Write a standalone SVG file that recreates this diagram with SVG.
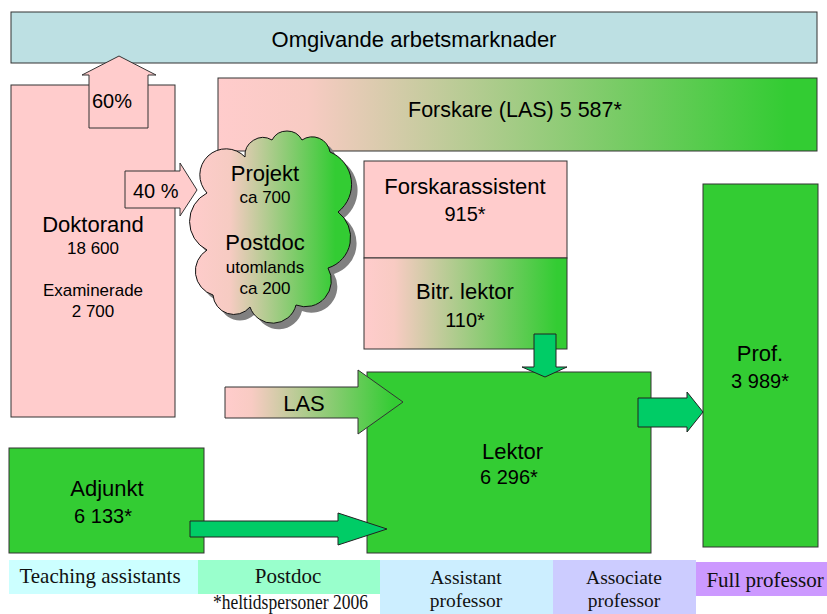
<svg xmlns="http://www.w3.org/2000/svg" width="827" height="614" viewBox="0 0 827 614">
<defs>
<linearGradient id="gPG" x1="0" y1="0" x2="1" y2="0">
<stop offset="0" stop-color="#ffcccc"/>
<stop offset="0.15" stop-color="#f8cbc3"/>
<stop offset="0.95" stop-color="#33cc33"/>
<stop offset="1" stop-color="#33cc33"/>
</linearGradient>
<linearGradient id="gCloud" x1="0" y1="0" x2="1" y2="0">
<stop offset="0" stop-color="#ffcccc"/>
<stop offset="0.25" stop-color="#f6cbc2"/>
<stop offset="0.9" stop-color="#33cc33"/>
<stop offset="1" stop-color="#33cc33"/>
</linearGradient>
<style>
.box{stroke:#333;stroke-width:1}
.pink{fill:#ffcccc}
.green{fill:#33cc33}
.arr{fill:#00cc66;stroke:#222;stroke-width:1}
.s{font-family:"Liberation Sans",Arial,sans-serif;fill:#000}
.big{font-size:22px}
.med{font-size:20px}
.sm{font-size:17px}
.ser{font-family:"Liberation Serif","Times New Roman",serif;font-size:21px;fill:#111}
.ser2{font-family:"Liberation Serif","Times New Roman",serif;font-size:19.5px;fill:#111}
.c{text-anchor:middle}
</style>
</defs>

<g id="arbetsmarknad">
<rect x="11" y="12" width="806" height="51" fill="#bde0e3" class="box"/>
<text x="414" y="47" class="s big c">Omgivande arbetsmarknader</text>
</g>

<g id="forskare">
<rect x="218" y="78" width="599" height="73" fill="url(#gPG)" class="box"/>
<text x="408" y="117" class="s" font-size="21.5">Forskare (LAS) 5 587*</text>
</g>

<g id="doktorand">
<rect x="11" y="85" width="164" height="332" class="box pink"/>
<text x="93" y="232" class="s big c">Doktorand</text>
<text x="93" y="254" class="s sm c">18 600</text>
<text x="93" y="296" class="s sm c">Examinerade</text>
<text x="93" y="317" class="s sm c">2 700</text>
</g>

<g id="cloud">
<path transform="translate(6,6)" fill="#808080" d="M 207 193 A 25 25 0 0 1 245 157 A 18 18 0 0 1 272 140 A 17 17 0 0 1 302 140 A 18 18 0 0 1 330 152 A 35 35 0 0 1 338 212 A 32 32 0 0 1 328 268 A 26 26 0 0 1 296 305 A 24 24 0 0 1 250 307 A 21 21 0 0 1 213 295 A 25 25 0 0 1 207 250 A 32 32 0 0 1 207 193 Z"/>
<path fill="url(#gCloud)" stroke="#111" stroke-width="1" d="M 207 193 A 25 25 0 0 1 245 157 A 18 18 0 0 1 272 140 A 17 17 0 0 1 302 140 A 18 18 0 0 1 330 152 A 35 35 0 0 1 338 212 A 32 32 0 0 1 328 268 A 26 26 0 0 1 296 305 A 24 24 0 0 1 250 307 A 21 21 0 0 1 213 295 A 25 25 0 0 1 207 250 A 32 32 0 0 1 207 193 Z"/>
<text x="265" y="181" class="s big c">Projekt</text>
<text x="265" y="203" class="s sm c">ca 700</text>
<text x="265" y="250" class="s big c">Postdoc</text>
<text x="265" y="273" class="s sm c">utomlands</text>
<text x="265" y="294" class="s sm c">ca 200</text>
</g>

<g id="forskarassistent">
<rect x="364" y="161" width="203" height="97" class="box pink"/>
<text x="465" y="194" class="s big c">Forskarassistent</text>
<text x="465" y="221" class="s med c">915*</text>
</g>

<g id="bitrlektor">
<rect x="364" y="258" width="203" height="91" fill="url(#gPG)" class="box"/>
<text x="465" y="299" class="s big c">Bitr. lektor</text>
<text x="465" y="327" class="s med c">110*</text>
</g>

<g id="lektor">
<rect x="367" y="372" width="284" height="181" class="box green"/>
<text x="482" y="459" class="s big">Lektor</text>
<text x="480" y="484" class="s med">6 296*</text>
</g>

<g id="prof">
<rect x="703" y="184" width="115" height="363" class="box green"/>
<text x="760" y="361" class="s big c">Prof.</text>
<text x="760" y="388" class="s med c">3 989*</text>
</g>

<g id="adjunkt">
<rect x="9" y="448" width="195" height="105" class="box green"/>
<text x="107" y="496" class="s big c">Adjunkt</text>
<text x="103" y="523" class="s med c">6 133*</text>
</g>

<g id="connectors">
<polygon points="89,128 89,75 82,75 119,56 156,75 148,75 148,128" class="box pink"/>
<text x="92" y="108" class="s med">60%</text>
<polygon points="125,171 180,171 180,163 197,190 180,216 180,208 125,208" class="box pink"/>
<text x="133" y="198" class="s med">40 %</text>
<polygon points="225,387 358,387 358,370 403,402 358,434 358,418 225,418" fill="url(#gPG)" class="box"/>
<text x="304" y="411" class="s big c">LAS</text>
<polygon points="534,334 556,334 556,367 567,367 545,377 522,367 534,367" class="arr"/>
<polygon points="638,398 687,398 687,392 703,412 687,432 687,427 638,427" class="arr"/>
<polygon points="190,521 338,521 338,513 387,529 338,545 338,537 190,537" class="arr"/>
</g>

<g id="legend">
<rect x="9" y="560" width="189" height="34" fill="#ccffff"/>
<text x="100" y="583" class="ser c">Teaching assistants</text>
<rect x="198" y="560" width="182" height="34" fill="#99ffcc"/>
<text x="288" y="583" class="ser c">Postdoc</text>
<rect x="380" y="560" width="173" height="54" fill="#cceeff"/>
<text x="466" y="584" class="ser2 c">Assistant</text>
<text x="466" y="607" class="ser2 c">professor</text>
<rect x="553" y="560" width="143" height="54" fill="#ccccff"/>
<text x="624" y="584" class="ser2 c">Associate</text>
<text x="624" y="607" class="ser2 c">professor</text>
<rect x="696" y="562" width="131" height="34" fill="#cc99ff"/>
<text x="765" y="587" class="ser c">Full professor</text>
<text x="213" y="609" class="ser" font-size="16" textLength="155" lengthAdjust="spacingAndGlyphs">*heltidspersoner 2006</text>
</g>
</svg>
